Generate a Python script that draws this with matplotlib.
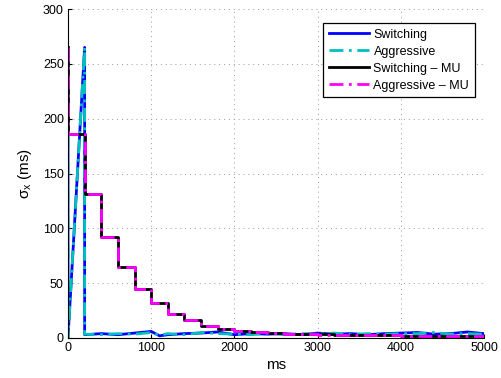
import matplotlib
matplotlib.use('Agg')
import matplotlib.pyplot as plt

plt.rcParams['font.family'] = ['Liberation Sans', 'DejaVu Sans']
plt.rcParams['mathtext.default'] = 'regular'

# Switching / Aggressive (single user)
sw_x = [0, 0, 200, 200, 400, 600, 800, 1000, 1100, 1200, 1400, 1600, 1800, 2000,
        2200, 2400, 2600, 2800, 3000, 3200, 3400, 3600, 3800, 4000, 4200, 4400,
        4600, 4800, 5000]
sw_y = [186, 0, 265, 3, 4, 3, 4.5, 6, 2, 3, 4, 4.5, 5.5, 3,
        4, 3.5, 4, 3, 4.5, 3.5, 4, 3, 4, 4.5, 5, 3.5, 4, 5.5, 4]
ag_x = sw_x
ag_y = [186, 0, 265, 3.5, 3, 4, 3.5, 5, 2.5, 4, 3, 5, 4, 3.5,
        3, 4.5, 3, 4, 3.5, 4.5, 3, 4, 3.5, 4, 4, 5, 3.5, 4, 3.5]

# Multi-user step curves
mu_x = [0, 0, 200, 400, 600, 800, 1000, 1200, 1400, 1600, 1800, 2000, 2200,
        2400, 2600, 2800, 3000, 3200, 3400, 3600, 3800, 4000, 4200, 4400,
        4600, 4800, 5000]
mu_y = [265, 186, 131, 92, 64.5, 45, 31.5, 22, 16, 11.3, 8.2, 6.4, 5.2,
        4.5, 4, 3.5, 3.2, 3, 2.8, 2.6, 2.4, 2.2, 2.1, 2, 2, 1.9, 1.9]
agmu_y = [265, 186, 131, 92, 64.5, 45, 31.5, 22, 16, 11.3, 8.2, 6.4, 5.2,
          4.3, 3.8, 3.4, 3.1, 2.9, 2.7, 2.5, 2.3, 2.2, 2, 2, 1.9, 1.9, 1.9]

labels = ['Switching', 'Aggressive', 'Switching \u2013 MU', 'Aggressive \u2013 MU']

fig = plt.figure(figsize=(5.02, 3.78), dpi=100)
ax = fig.add_axes([68 / 502, 40 / 378, 416 / 502, 329 / 378])

dashdot = (0, (5, 2, 1, 2))
ax.plot(sw_x, sw_y, color='#0000ff', lw=2, label=labels[0])
ax.plot(ag_x, ag_y, color='#00bfbf', lw=2, ls=dashdot, label=labels[1])
ax.plot(mu_x, mu_y, color='black', lw=2, drawstyle='steps-post', label=labels[2])
ax.plot(mu_x, agmu_y, color='#ff00ff', lw=2, ls=dashdot, drawstyle='steps-post',
        label=labels[3])

ax.set_xlim(0, 5000)
ax.set_ylim(0, 300)
ax.set_xticks(range(0, 5001, 1000))
ax.set_yticks(range(0, 301, 50))
ax.spines['top'].set_visible(False)
ax.spines['right'].set_visible(False)
ax.grid(True, linestyle=(0, (1, 4)), color='#999999', lw=0.7)
ax.tick_params(direction='in', labelsize=9, length=3, pad=3)
ax.set_xlabel('ms', fontsize=11, labelpad=3)
ax.set_ylabel(r'$\sigma_x$ (ms)', fontsize=11, labelpad=6)

leg = ax.legend(loc='upper right', bbox_to_anchor=(0.978, 0.957), borderaxespad=0,
                fontsize=9, fancybox=False, framealpha=1, edgecolor='black',
                handlelength=3.2, handletextpad=0.35, borderpad=0.45,
                labelspacing=0.4)
leg.get_frame().set_linewidth(0.9)

fig.savefig('out.png', dpi=100)
